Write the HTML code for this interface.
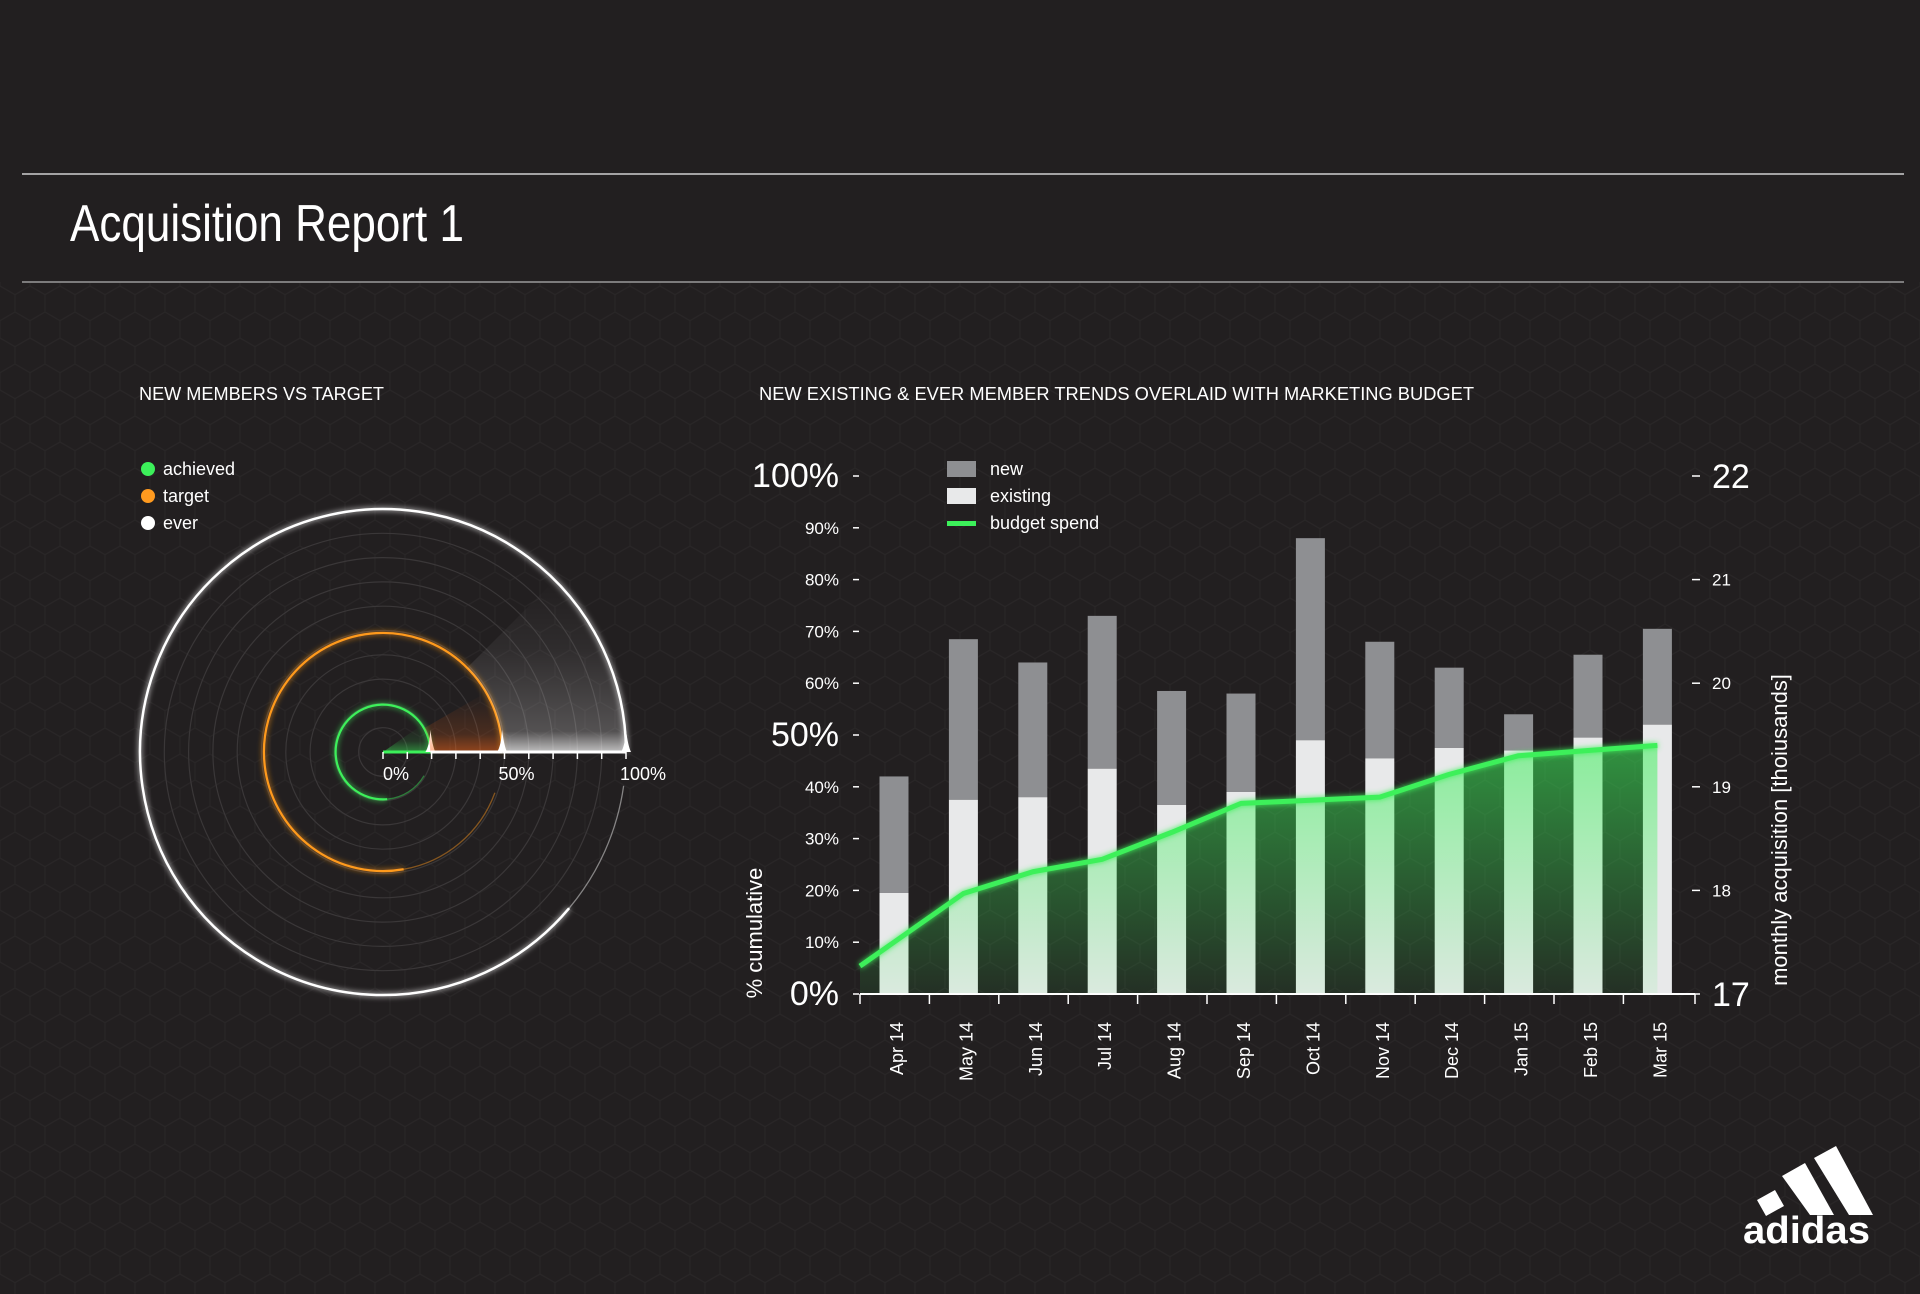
<!DOCTYPE html>
<html><head><meta charset="utf-8"><title>Acquisition Report 1</title>
<style>
html,body{margin:0;padding:0;background:#221f20;}
svg{display:block;font-family:"Liberation Sans",sans-serif;}
</style></head>
<body>
<svg id="root" width="1920" height="1294" viewBox="0 0 1920 1294">
<defs>
<pattern id="hex" width="30" height="52" patternUnits="userSpaceOnUse">
<path d="M15 0 L30 8.7 L30 26 L15 34.7 L0 26 L0 8.7 Z M15 34.7 L15 52" fill="none" stroke="#2b2829" stroke-width="1.2"/>
</pattern>
<filter id="glow" x="-20%" y="-20%" width="140%" height="140%"><feGaussianBlur stdDeviation="3" result="b"/><feMerge><feMergeNode in="b"/><feMergeNode in="SourceGraphic"/></feMerge></filter>
<linearGradient id="areaGrad" x1="0" y1="0" x2="0" y2="1">
<stop offset="0" stop-color="#3cf05a" stop-opacity="0.55"/>
<stop offset="1" stop-color="#3cf05a" stop-opacity="0.08"/>
</linearGradient>
<linearGradient id="wedgeW" x1="0" y1="1" x2="0" y2="0">
<stop offset="0" stop-color="#ffffff" stop-opacity="0.95"/>
<stop offset="0.12" stop-color="#ffffff" stop-opacity="0.3"/>
<stop offset="0.6" stop-color="#ffffff" stop-opacity="0.08"/>
<stop offset="1" stop-color="#ffffff" stop-opacity="0"/>
</linearGradient>
<linearGradient id="wedgeO" x1="0" y1="1" x2="0" y2="0">
<stop offset="0" stop-color="#ff6a1a" stop-opacity="0.85"/>
<stop offset="0.3" stop-color="#ff6a1a" stop-opacity="0.3"/>
<stop offset="1" stop-color="#ff6a1a" stop-opacity="0"/>
</linearGradient>
<linearGradient id="wedgeG" x1="0" y1="1" x2="0" y2="0">
<stop offset="0" stop-color="#3cf05a" stop-opacity="0.8"/>
<stop offset="0.4" stop-color="#3cf05a" stop-opacity="0.2"/>
<stop offset="1" stop-color="#3cf05a" stop-opacity="0"/>
</linearGradient>
</defs>
<rect width="1920" height="1294" fill="#221f20"/>
<rect y="282" width="1920" height="1012" fill="url(#hex)" opacity="0.8"/>

<line x1="22" y1="174" x2="1904" y2="174" stroke="#cfcfcf" stroke-width="1.5"/>
<line x1="22" y1="282" x2="1904" y2="282" stroke="#9a9a9a" stroke-width="1.5"/>
<text x="70" y="241" font-size="52" fill="#fff" textLength="394" lengthAdjust="spacingAndGlyphs">Acquisition Report 1</text>

<text x="139" y="400" font-size="18" fill="#fff" textLength="245" lengthAdjust="spacingAndGlyphs">NEW MEMBERS VS TARGET</text>
<text x="759" y="400" font-size="18" fill="#fff" textLength="715" lengthAdjust="spacingAndGlyphs">NEW EXISTING &amp; EVER MEMBER TRENDS OVERLAID WITH MARKETING BUDGET</text>

<g id="radial"></g>
<g id="bars"></g>

<g fill="#fff">
<polygon points="1757,1200 1775,1190 1784,1206 1766,1216"/>
<polygon points="1782,1176 1805,1163 1834,1215 1810,1215"/>
<polygon points="1814,1158 1836,1146 1873,1215 1849,1215"/>
<text x="1743" y="1243" font-size="38" font-weight="bold" textLength="127" lengthAdjust="spacingAndGlyphs">adidas</text>
</g>
</svg>
<script>
// ---------- radial chart data ----------
const radialSeries = ['achieved','target','ever'];
const radialValues = [19.5, 49, 100];
const radialColors = ['#3cf05a','#ff9a1f','#ffffff'];

// ---------- bar chart data ----------
const months = ['Apr 14','May 14','Jun 14','Jul 14','Aug 14','Sep 14','Oct 14','Nov 14','Dec 14','Jan 15','Feb 15','Mar 15'];
const totalValues = [42, 68.5, 64, 73, 58.5, 58, 88, 68, 63, 54, 65.5, 70.5];
const existingValues = [19.5, 37.5, 38, 43.5, 36.5, 39, 49, 45.5, 47.5, 47, 49.5, 52];
const budgetValues = [17.27, 17.97, 18.18, 18.3, 18.56, 18.84, 18.87, 18.9, 19.12, 19.3, 19.35, 19.4];
const leftTicks = [0,10,20,30,40,50,60,70,80,90,100];
const rightTicks = [17,18,19,20,21,22];

const NS = 'http://www.w3.org/2000/svg';
function mk(tag, attrs, parent){ const e=document.createElementNS(NS,tag); for(const k in attrs) e.setAttribute(k,attrs[k]); parent.appendChild(e); return e; }

// ----- radial -----
(function(){
  const g=document.getElementById('radial');
  const cx=383, cy=752, R=243;
  const rs=v=>v/100*R;
  const P=(r,deg)=>[cx+r*Math.cos(deg*Math.PI/180), cy+r*Math.sin(deg*Math.PI/180)];
  for(let i=1;i<=9;i++){
    const c=mk('circle',{cx:cx,cy:cy,r:R*i/10,fill:'none',stroke:'#3a3738','stroke-width':1.2},g);
    
    
  }
  const solidEnd=[85,80,40];
  const tailEnd=[30,20,8];
  const wedgeAng=[-35,-30,-45];
  radialValues.forEach((v,i)=>{
    const r=rs(v), col=radialColors[i];
    const prev = i===0?0:rs(radialValues[i-1]);
    const grad=['url(#wedgeG)','url(#wedgeO)','url(#wedgeW)'][i];
    const a=wedgeAng[i];
    const o1=P(r,a), i1=P(prev,a);
    const d = `M${cx+prev} ${cy} L${cx+r} ${cy} A${r} ${r} 0 0 0 ${o1[0]} ${o1[1]} L${i1[0]} ${i1[1]} ${prev>0?`A${prev} ${prev} 0 0 1 ${cx+prev} ${cy}`:''} Z`;
    const w=mk('path',{d:d,fill:grad,opacity:i===2?0.75:0.6},g);
    
    
    const e=P(r,solidEnd[i]);
    const arc=mk('path',{d:`M${cx+r} ${cy} A${r} ${r} 0 1 0 ${e[0]} ${e[1]}`,fill:'none',stroke:col,'stroke-width':i===2?2.5:2.2,filter:'url(#glow)'},g);
    
    
    const t2=P(r,tailEnd[i]);
    const tail=mk('path',{d:`M${e[0]} ${e[1]} A${r} ${r} 0 0 0 ${t2[0]} ${t2[1]}`,fill:'none',stroke:col,'stroke-width':1.3,opacity:0.45},g);
    
    
    const seg=mk('line',{x1:cx+prev,y1:cy,x2:cx+r,y2:cy,stroke:i===0?'#3cf05a':'#ffffff','stroke-width':3},g);
    
    
    const cap=mk('path',{d:`M${cx+r-5} ${cy} Q${cx+r-1} ${cy-6} ${cx+r} ${cy-22} Q${cx+r+2} ${cy-6} ${cx+r+5} ${cy} Z`,fill:'#fff'},g);
    
    
  });
  for(let p=0;p<=100;p+=10){
    const t=mk('line',{x1:cx+rs(p),y1:cy,x2:cx+rs(p),y2:cy+7,stroke:'#fff','stroke-width':1.5},g);
    
    
  }
  [[0,'0%'],[50,'50%'],[100,'100%']].forEach(([p,l])=>{
    const t=mk('text',{x:cx+rs(p)+(p===0?0:-6),y:cy+28,'font-size':18,fill:'#fff'},g);
    t.textContent=l;
    
    
  });
  radialSeries.forEach((s,i)=>{
    const y=469+i*27;
    const d=mk('circle',{cx:148,cy:y,r:7,fill:radialColors[i]},g);
    
    
    const t=mk('text',{x:163,y:y+6,'font-size':18,fill:'#fff'},g);
    t.textContent=s;
    
    
  });
})();

// ----- bars -----
(function(){
  const g=document.getElementById('bars');
  const x0=860, x1=1695, y0=994, y100=476;
  const step=69.4, first=894, bw=29;
  const xc=i=>first+i*step;
  const yL=v=>y0-(v/100)*(y0-y100);
  const yR=v=>y0-((v-17)/5)*(y0-y100);

  const pts=budgetValues.map((v,i)=>[i===0?x0:xc(i),yR(v)]);
  months.forEach((m,i)=>{
    const nb=mk('rect',{x:xc(i)-bw/2,y:yL(totalValues[i]),width:bw,height:yL(existingValues[i])-yL(totalValues[i]),fill:'#8e8f92'},g);
    
    
    const eb=mk('rect',{x:xc(i)-bw/2,y:yL(existingValues[i]),width:bw,height:y0-yL(existingValues[i]),fill:'#e8e9ea'},g);
    
    
  });
  let ad=`M${pts[0][0]} ${y0} `+pts.map(p=>`L${p[0]} ${p[1]}`).join(' ')+` L${pts[pts.length-1][0]} ${y0} Z`;
  const area=mk('path',{d:ad,fill:'url(#areaGrad)'},g);
  
  
  const line=mk('polyline',{points:pts.map(p=>p.join(',')).join(' '),fill:'none',stroke:'#3cf05a','stroke-width':5,'stroke-linejoin':'round',filter:'url(#glow)'},g);
  
  

  const ax=mk('line',{x1:x0,y1:y0,x2:x1,y2:y0,stroke:'#fff','stroke-width':2},g);
  
  
  for(let i=0;i<=months.length;i++){
    const tx=i===months.length?x1:x0+i*step;
    const t=mk('line',{x1:tx,y1:y0,x2:tx,y2:y0+10,stroke:'#fff','stroke-width':1.5},g);
    
    
  }
  months.forEach((m,i)=>{
    const t=mk('text',{x:0,y:0,'font-size':18,fill:'#fff','text-anchor':'end',transform:`translate(${xc(i)+9},${y0+28}) rotate(-90)`},g);
    t.textContent=m;
    
    
  });
  leftTicks.forEach(v=>{
    const big=(v%50===0);
    const y=yL(v);
    const d=mk('line',{x1:853,y1:y,x2:859,y2:y,stroke:'#fff','stroke-width':1.5},g);
    
    
    const t=mk('text',{x:839,y:y+(big?11:6),'font-size':big?34:17,fill:'#fff','text-anchor':'end'},g);
    t.textContent=v+'%';
    
    
  });
  rightTicks.forEach(v=>{
    const big=(v===17||v===22);
    const y=yR(v);
    const d=mk('line',{x1:1692,y1:y,x2:1700,y2:y,stroke:'#fff','stroke-width':1.5},g);
    
    
    const t=mk('text',{x:1712,y:y+(big?12:6),'font-size':big?34:17,fill:'#fff'},g);
    t.textContent=v;
    
    
  });
  const lt=mk('text',{x:0,y:0,'font-size':22,fill:'#fff','text-anchor':'middle',transform:'translate(762,933) rotate(-90)'},g);
  lt.textContent='% cumulative';
  
  
  const rt=mk('text',{x:0,y:0,'font-size':22,fill:'#fff','text-anchor':'middle',transform:'translate(1787,830) rotate(-90)'},g);
  rt.textContent='monthly acquisition [thoiusands]';
  
  

  const leg=[['new','#8e8f92'],['existing','#e8e9ea'],['budget spend','#3cf05a']];
  leg.forEach(([l,c],i)=>{
    const y=469+i*27;
    const s=mk('rect',{x:947,y:i===2?y-2:y-8,width:29,height:i===2?5:16,fill:c},g);
    
    
    const t=mk('text',{x:990,y:y+6,'font-size':18,fill:'#fff'},g);
    t.textContent=l;
    
    
  });
})();
</script>
</body></html>
